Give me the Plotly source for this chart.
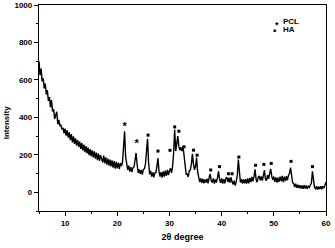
import numpy as np
import plotly.graph_objects as go

# 2-theta grid (instrument step 0.2 degree, 5 to 60)
two_theta = np.round(np.arange(5.0, 60.0001, 0.2), 1)

intensity = [
    700, 625, 660, 592, 610, 555, 580, 522, 545, 488,
    508, 455, 492, 432, 444, 392, 412, 430, 364, 386,
    356, 358, 336, 344, 314, 340, 302, 330, 292, 320,
    278, 310, 266, 298, 258, 288, 250, 278, 242, 270,
    232, 262, 224, 254, 214, 246, 208, 238, 198, 230,
    192, 224, 186, 218, 180, 212, 172, 206, 168, 198,
    178, 160, 196, 154, 186, 148, 180, 142, 174, 138,
    170, 132, 166, 126, 162, 128, 158, 124, 156, 140,
    160, 245, 325, 190, 140, 120, 142, 110, 134, 108,
    130, 135, 170, 210, 150, 104, 122, 98, 120, 94,
    122, 125, 150, 215, 285, 160, 96, 114, 84, 106,
    80, 104, 105, 140, 182, 110, 84, 108, 78, 112,
    84, 116, 88, 120, 92, 115, 128, 104, 138, 210,
    335, 220, 270, 300, 245, 225, 240, 220, 246, 190,
    140, 96, 98, 82, 114, 120, 150, 205, 150, 120,
    140, 185, 110, 72, 54, 74, 50, 72, 48, 68,
    52, 72, 48, 78, 98, 62, 52, 74, 46, 68,
    52, 78, 112, 70, 50, 74, 46, 70, 48, 74,
    80, 54, 78, 52, 80, 56, 42, 62, 36, 58,
    90, 175, 95, 52, 70, 46, 68, 48, 70, 46,
    74, 48, 76, 54, 82, 58, 84, 122, 70, 54,
    80, 88, 64, 84, 62, 90, 118, 70, 62, 92,
    72, 100, 125, 86, 66, 84, 56, 80, 52, 78,
    56, 84, 60, 88, 54, 84, 60, 86, 64, 90,
    100, 132, 85, 52, 46, 28, 46, 24, 40, 22,
    38, 20, 36, 18, 38, 20, 36, 18, 34, 26,
    38, 48, 112, 50, 26, 16, 32, 14, 30, 18,
    32, 16, 32, 22, 38, 55,
]

# peak markers
pcl_x = [21.4, 23.7]
pcl_y = [348, 256]
ha_x = [25.9, 27.8, 30.1, 31.0, 31.8, 32.8, 34.6, 35.3, 37.9, 39.6,
        41.3, 42.0, 43.3, 46.5, 48.1, 49.5, 53.3, 57.4]
ha_y = [305, 220, 224, 349, 326, 243, 225, 198, 119, 137,
        99, 99, 188, 144, 149, 154, 165, 137]

x_ticks = [10, 20, 30, 40, 50, 60]
y_ticks = [0, 200, 400, 600, 800, 1000]

FONT = "Liberation Sans"

fig = go.Figure()
fig.add_trace(go.Scatter(x=two_theta, y=intensity, mode="lines",
                         line=dict(color="black", width=1.4), showlegend=False,
                         hoverinfo="skip"))
fig.add_trace(go.Scatter(x=pcl_x, y=pcl_y, mode="text", text=["<b>*</b>"] * len(pcl_x),
                         textfont=dict(family=FONT, size=11, color="black"),
                         textposition="middle center", showlegend=False))
fig.add_trace(go.Scatter(x=ha_x, y=ha_y, mode="markers",
                         marker=dict(symbol="square", size=3, color="black",
                                     line=dict(width=0)),
                         showlegend=False))

# legend (top right)
fig.add_annotation(xref="paper", yref="paper", x=0.829, y=0.905, xanchor="center",
                   yanchor="middle", showarrow=False,
                   text="<b>*</b>", font=dict(family=FONT, size=9, color="black"))
fig.add_annotation(xref="paper", yref="paper", x=0.843, y=0.919, xanchor="left",
                   yanchor="middle", showarrow=False,
                   text="<b>PCL</b>", font=dict(family=FONT, size=8, color="black"))
fig.add_annotation(xref="paper", yref="paper", x=0.819, y=0.879, xanchor="center",
                   yanchor="middle", showarrow=False,
                   text="<b>■</b>", font=dict(family=FONT, size=5, color="black"))
fig.add_annotation(xref="paper", yref="paper", x=0.843, y=0.879, xanchor="left",
                   yanchor="middle", showarrow=False,
                   text="<b>HA</b>", font=dict(family=FONT, size=8, color="black"))

# y-axis title
fig.add_annotation(xref="paper", yref="paper", x=-0.112, y=0.43, xanchor="center",
                   yanchor="middle", showarrow=False, textangle=-90,
                   text="<b>Intensity</b>", font=dict(family=FONT, size=8, color="black"))

axis_common = dict(showgrid=False, zeroline=False, showline=True, linecolor="black",
                   linewidth=1.3, mirror=True, ticks="outside", ticklen=4,
                   tickwidth=1, tickcolor="black", automargin=False,
                   tickfont=dict(family=FONT, size=8, color="black"))

fig.update_xaxes(range=[5, 60], tickvals=x_ticks,
                 ticktext=[f"<b>{v}</b>" for v in x_ticks],
                 minor=dict(tickvals=[5, 15, 25, 35, 45, 55], ticklen=2, ticks="outside",
                            tickcolor="black"),
                 title=dict(text="<b>2θ degree</b>", standoff=6,
                            font=dict(family=FONT, size=9, color="black")),
                 **axis_common)
fig.update_yaxes(range=[-100, 1000], tickvals=y_ticks,
                 ticktext=[f"<b>{v}</b>" for v in y_ticks],
                 minor=dict(tickvals=[-100, 100, 300, 500, 700, 900], ticklen=2,
                            ticks="outside", tickcolor="black"),
                 **axis_common)

fig.update_layout(width=335, height=248, margin=dict(l=39, r=9, t=5, b=37),
                  paper_bgcolor="white", plot_bgcolor="white",
                  font=dict(family=FONT, color="black"))

fig.write_html("out.html", config={"displayModeBar": False},
               post_script="document.body.style.margin='0';")
